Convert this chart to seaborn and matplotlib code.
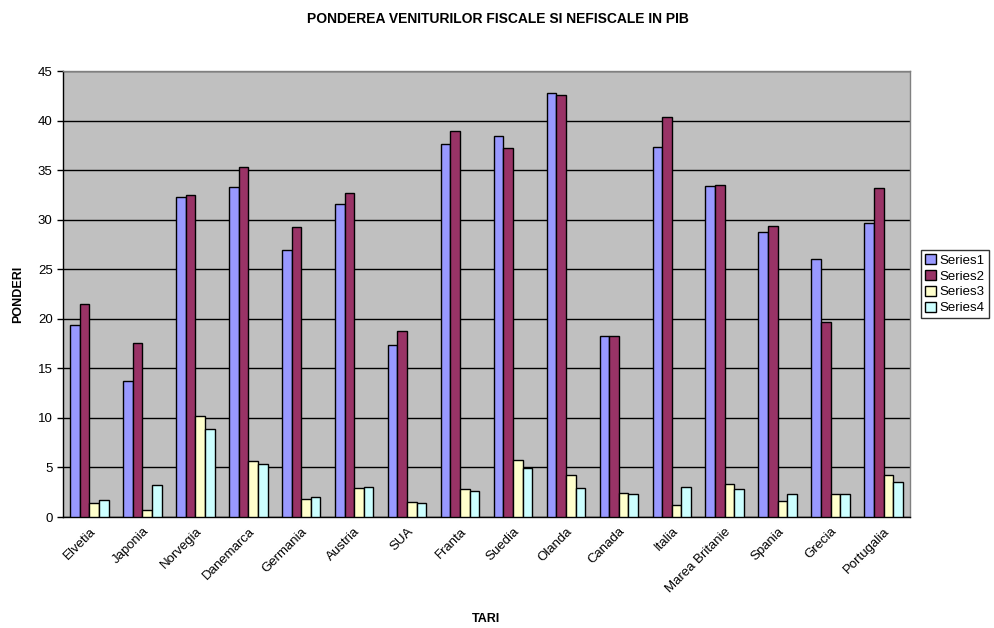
import pandas as pd
import matplotlib.pyplot as plt
import seaborn as sns

tari = ['Elvetia', 'Japonia', 'Norvegia', 'Danemarca', 'Germania', 'Austria', 'SUA',
        'Franta', 'Suedia', 'Olanda', 'Canada', 'Italia', 'Marea Britanie', 'Spania',
        'Grecia', 'Portugalia']
series1 = [19.4, 13.7, 32.3, 33.3, 26.9, 31.6, 17.4, 37.6, 38.4, 42.8, 18.3, 37.3, 33.4, 28.8, 26.0, 29.7]
series2 = [21.5, 17.6, 32.5, 35.3, 29.3, 32.7, 18.8, 38.9, 37.2, 42.6, 18.3, 40.4, 33.5, 29.4, 19.7, 33.2]
series3 = [1.4, 0.7, 10.2, 5.7, 1.8, 2.9, 1.5, 2.8, 5.8, 4.2, 2.4, 1.2, 3.3, 1.6, 2.3, 4.2]
series4 = [1.7, 3.2, 8.9, 5.3, 2.0, 3.0, 1.4, 2.6, 4.9, 2.9, 2.3, 3.0, 2.8, 2.3, 2.3, 3.5]
serii = ['Series1', 'Series2', 'Series3', 'Series4']
culori = ['#9999FF', '#993366', '#FFFFCC', '#CCFFFF']

# format lung pentru seaborn
df = pd.DataFrame({'tara': tari, 'Series1': series1, 'Series2': series2,
                   'Series3': series3, 'Series4': series4})
df = df.melt(id_vars='tara', var_name='serie', value_name='pondere')

sns.set_style("white")
plt.rcParams['font.family'] = ['Liberation Sans', 'DejaVu Sans']
plt.rcParams['text.color'] = 'black'
plt.rcParams['axes.labelcolor'] = 'black'
plt.rcParams['xtick.color'] = 'black'
plt.rcParams['ytick.color'] = 'black'

fig = plt.figure(figsize=(9.95, 6.28), dpi=100)
ax = fig.add_axes([63 / 995, 1 - 517 / 628, (910 - 63) / 995, (517 - 71) / 628])
ax.set_facecolor('#C0C0C0')

sns.barplot(data=df, x='tara', y='pondere', hue='serie', hue_order=serii,
            palette=culori, width=0.727, edgecolor='black', linewidth=1,
            saturation=1, ax=ax, zorder=3)

ax.set_ylim(0, 45)
ax.set_xlim(-0.5, len(tari) - 0.5)
ax.set_yticks(range(0, 46, 5))
ax.yaxis.grid(True, color='black', linewidth=1, zorder=0)
ax.set_axisbelow(True)

ax.set_xticks(range(len(tari)))
ax.set_xticklabels(tari, rotation=45, ha='right', rotation_mode='anchor', fontsize=9.5)
ax.set_xticks([i + 0.5 for i in range(-1, len(tari))], minor=True)
ax.tick_params(axis='x', which='major', length=0, pad=6)
ax.tick_params(axis='x', which='minor', length=5, width=1, color='black', direction='out')
ax.tick_params(axis='y', length=4, width=1, color='black', direction='out', labelsize=9.5, left=True)

for s in ['left', 'bottom']:
    ax.spines[s].set_color('black')
    ax.spines[s].set_linewidth(1)
for s in ['top', 'right']:
    ax.spines[s].set_color('#808080')
    ax.spines[s].set_linewidth(1)

ax.set_xlabel('TARI', fontsize=9, fontweight='bold')
ax.xaxis.set_label_coords(0.5, -0.215)
ax.set_ylabel('PONDERI', fontsize=9, fontweight='bold', labelpad=10)

fig.suptitle('PONDEREA VENITURILOR FISCALE SI NEFISCALE IN PIB', fontsize=10,
             fontweight='bold', y=1 - 12 / 628, x=0.5)

ax.legend(loc='upper left', bbox_to_anchor=(921 / 995, 1 - 250 / 628),
          bbox_transform=fig.transFigure, frameon=True, fancybox=False,
          edgecolor='black', fontsize=9.5, handlelength=0.8, handleheight=0.8,
          handletextpad=0.3, borderpad=0.3, labelspacing=0.25, borderaxespad=0)

fig.savefig('out.png', dpi=100)
